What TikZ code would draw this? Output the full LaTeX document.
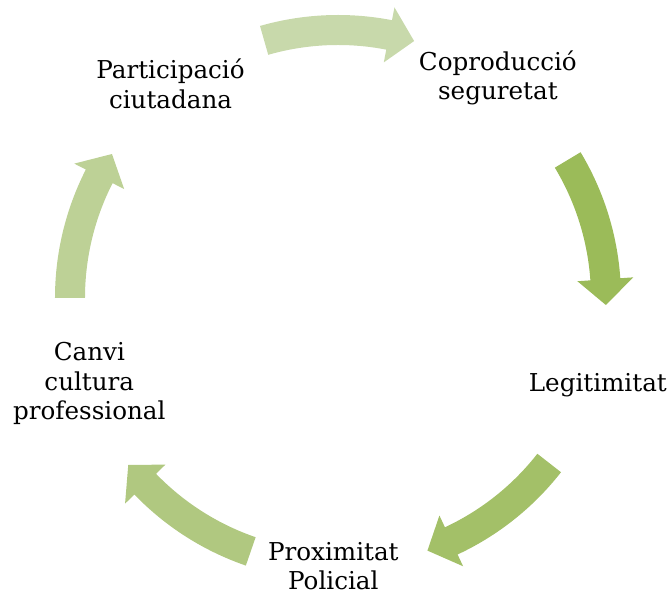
\documentclass[tikz,border=0pt]{standalone}
\usepackage{fontspec}
\setmainfont{DejaVu Serif}
\usepackage{xcolor}
\usepackage{tikz}
\usetikzlibrary{calc}

\definecolor{greenA}{HTML}{C8D9AB}
\definecolor{greenB}{HTML}{9BBB59}
\definecolor{greenC}{HTML}{A3C068}
\definecolor{greenD}{HTML}{B0C880}
\definecolor{greenE}{HTML}{BDD196}

\begin{document}
\begin{tikzpicture}[
    x=0.025cm, y=0.025cm,
    lbl/.style={inner sep=0pt, align=center, font=\fontsize{17.5}{21}\selectfont}
]
    \useasboundingbox (-338,-298) rectangle (329,298);

    % curved block arrows on the cycle
    \foreach \mid/\col in {90/greenA, 15/greenB, -54/greenC, -125/greenD, 164/greenE} {
        \fill[\col] (\mid+16:253) arc[start angle=\mid+16, end angle=\mid-11, radius=253]
            -- (\mid-11:240) -- (\mid-16.5:268) -- (\mid-11:296) -- (\mid-11:283)
            arc[start angle=\mid-11, end angle=\mid+16, radius=283] -- cycle;
    }

    \node[lbl] (copro) at (54:272) {Coproducció\\seguretat};
    \node[lbl] (legit) at (-18.5:274) {Legitimitat};
    \node[lbl] (proxi) at (-91:268) {Proximitat\\Policial};
    \node[lbl] (canvi) at (199:263) {Canvi\\cultura\\professional};
    \node[lbl] (parti) at (128:272) {Participació\\ciutadana};
\end{tikzpicture}
\end{document}
